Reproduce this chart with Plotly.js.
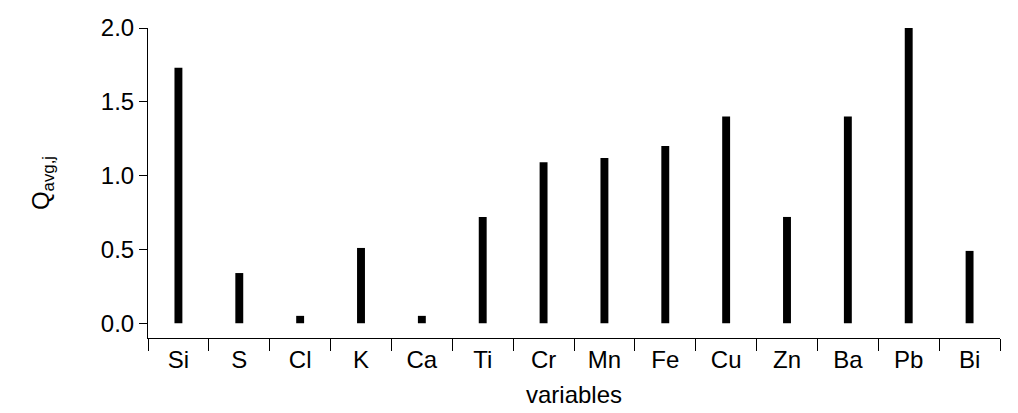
<!DOCTYPE html>
<html><head><meta charset="utf-8">
<script src="https://cdn.plot.ly/plotly-3.0.1.min.js"></script>
<style>body{margin:0;background:#fff}#c{width:1018px;height:413px}</style>
</head><body><div id="c"></div>
<script>
const variables = ['Si','S','Cl','K','Ca','Ti','Cr','Mn','Fe','Cu','Zn','Ba','Pb','Bi'];
const qavg = [1.73, 0.34, 0.05, 0.51, 0.05, 0.72, 1.09, 1.12, 1.20, 1.40, 0.72, 1.40, 2.0, 0.49];

Plotly.newPlot('c', [{
  type:'bar', x:variables, y:qavg,
  marker:{ color:'#000' }, hoverinfo:'skip'
}], {
  paper_bgcolor:'#fff', plot_bgcolor:'#fff',
  font:{ family:'Liberation Sans, Arial, sans-serif', color:'#000', size:24 },
  margin:{ t:28, r:18, b:75, l:148 },
  bargap:0.87, showlegend:false,
  xaxis:{ showline:true, linecolor:'#000', linewidth:1, ticks:'outside', ticklen:12,
          tickson:'boundaries', tickcolor:'#000', showgrid:false, zeroline:false,
          tickfont:{ size:24 }, title:{ text:'variables', standoff:14, font:{ size:24 } } },
  yaxis:{ range:[-0.1, 2.0], tickvals:[0,0.5,1,1.5,2], ticktext:['0.0','0.5','1.0','1.5','2.0'],
          showline:true, linecolor:'#000', linewidth:1, ticks:'outside', ticklen:8, tickcolor:'#000',
          showgrid:false, zeroline:false, tickfont:{ size:24 },
          title:{ text:'Q<sub>avg,j</sub>', standoff:44, font:{ size:24 } } },
}, { displayModeBar:false });
</script></body></html>
